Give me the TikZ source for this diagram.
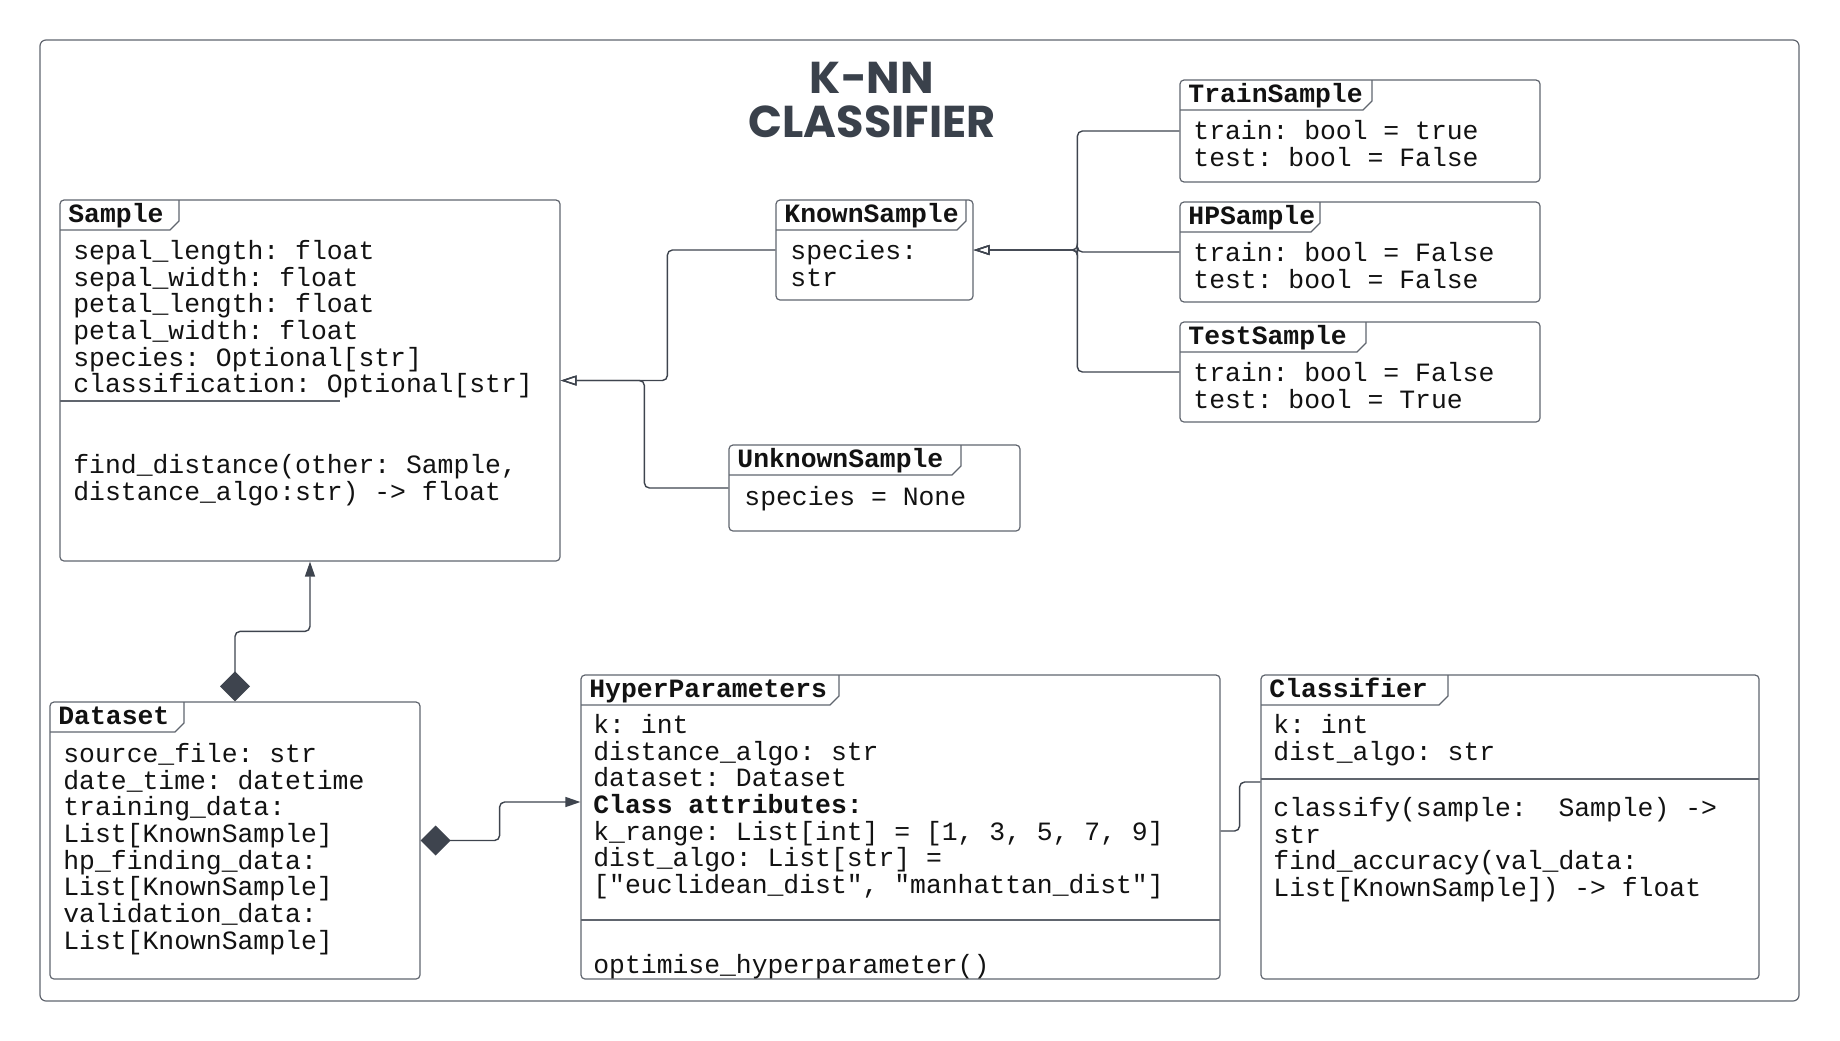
\documentclass[tikz,border=0pt]{standalone}
\usepackage{fontspec}
\setmonofont{Liberation Mono}
\newfontfamily\headfont{Poppins}
\usetikzlibrary{arrows.meta, fit, calc}

\definecolor{boxline}{RGB}{96,101,110}
\definecolor{wire}{RGB}{62,68,78}
\definecolor{ink}{RGB}{18,18,18}
\definecolor{headink}{RGB}{58,65,75}
\newcommand{\firstln}{\rule{0pt}{11pt}}

\begin{document}
\begin{tikzpicture}[x=0.5pt, y=-0.5pt,
	cls/.style={draw=boxline, line width=0.6pt, rounded corners=2pt, inner sep=0pt},
	tab/.style={draw=boxline, line width=0.6pt},
	cname/.style={anchor=base west, inner sep=0pt, text=ink, font=\ttfamily\bfseries\fontsize{13.2}{13.35}\selectfont},
	attr/.style={anchor=north west, inner sep=0pt, align=left, text=ink, font=\ttfamily\frenchspacing\fontsize{13.2}{13.35}\selectfont},
	wirestyle/.style={draw=wire, line width=0.7pt, rounded corners=2.5pt},
	gen/.style={wirestyle, -{Triangle[open, length=8pt, width=5pt]}},
	comp/.style={wirestyle, {Diamond[length=15pt, width=15pt]}-{Triangle[length=7.5pt, width=5pt]}}]
		\useasboundingbox (0,0) rectangle (1840,1040);
		\draw[boxline, line width=0.6pt, rounded corners=3pt] (40,40) rectangle (1799,1001);
		\node[font=\headfont\bfseries\fontsize{22.3}{22}\selectfont, text=headink, align=center] (title) at (872,100) {K-NN\\CLASSIFIER};
		% sample classes
		\node[cls, fit={(60,200) (560,561)}] (sample) {};
		\draw[tab] (179,200) -- (179,221) -- (170,230) -- (60,230);
		\node[cname] (sampleT) at (68,222) {Sample};
		\node[attr] (sampleA) at (73,237) {\firstln sepal\_length: float\\sepal\_width: float\\petal\_length: float\\petal\_width: float\\species: Optional[str]\\classification: Optional[str]};
		\draw[tab] (60,401) -- (340,401);
		\node[attr] (sampleM) at (73,451) {\firstln find\_distance(other: Sample,\\distance\_algo:str) -> float};
		\node[cls, fit={(776,200) (973,300)}] (known) {};
		\draw[tab] (966,200) -- (966,221) -- (957,230) -- (776,230);
		\node[cname] (knownT) at (784,222) {KnownSample};
		\node[attr] (knownA) at (790,237) {\firstln species:\\str};
		\node[cls, fit={(729,445) (1020,531)}] (unknown) {};
		\draw[tab] (961,445) -- (961,466) -- (952,475) -- (729,475);
		\node[cname] (unknownT) at (737,467) {UnknownSample};
		\node[attr] (unknownA) at (744,483) {\firstln species = None};
		\node[cls, fit={(1180,80) (1540,182)}] (train) {};
		\draw[tab] (1372,80) -- (1372,101) -- (1363,110) -- (1180,110);
		\node[cname] (trainT) at (1188,102) {TrainSample};
		\node[attr] (trainA) at (1193,117) {\firstln train: bool = true\\test: bool = False};
		\node[cls, fit={(1180,202) (1540,302)}] (hpsample) {};
		\draw[tab] (1320,202) -- (1320,223) -- (1311,232) -- (1180,232);
		\node[cname] (hpsampleT) at (1188,224) {HPSample};
		\node[attr] (hpsampleA) at (1193,239) {\firstln train: bool = False\\test: bool = False};
		\node[cls, fit={(1180,322) (1540,422)}] (test) {};
		\draw[tab] (1366,322) -- (1366,343) -- (1357,352) -- (1180,352);
		\node[cname] (testT) at (1188,344) {TestSample};
		\node[attr] (testA) at (1193,359) {\firstln train: bool = False\\test: bool = True};
		% data and classifier
		\node[cls, fit={(50,702) (420,979)}] (dataset) {};
		\draw[tab] (184,702) -- (184,723) -- (175,732) -- (50,732);
		\node[cname] (datasetT) at (58,724) {Dataset};
		\node[attr] (datasetA) at (63,740) {\firstln source\_file: str\\date\_time: datetime\\training\_data:\\List[KnownSample]\\hp\_finding\_data:\\List[KnownSample]\\validation\_data:\\List[KnownSample]};
		\node[cls, fit={(581,675) (1220,979)}] (hp) {};
		\draw[tab] (839,675) -- (839,696) -- (830,705) -- (581,705);
		\node[cname] (hpT) at (589,697) {HyperParameters};
		\node[attr] (hpA) at (593,711) {\firstln k: int\\distance\_algo: str\\dataset: Dataset\\\textbf{Class attributes:}\\k\_range: List[int] = [1, 3, 5, 7, 9]\\dist\_algo: List[str] =\\{}["euclidean\_dist", "manhattan\_dist"]};
		\draw[tab] (581,920) -- (1220,920);
		\node[attr] (hpM) at (593,951) {\firstln optimise\_hyperparameter()};
		\node[cls, fit={(1261,675) (1759,979)}] (classifier) {};
		\draw[tab] (1448,675) -- (1448,696) -- (1439,705) -- (1261,705);
		\node[cname] (classifierT) at (1269,697) {Classifier};
		\node[attr] (classifierA) at (1273,711) {\firstln k: int\\dist\_algo: str};
		\draw[tab] (1261,779) -- (1759,779);
		\node[attr] (classifierM) at (1273,794) {\firstln classify(sample:\ \ Sample) ->\\str\\find\_accuracy(val\_data:\\List[KnownSample]) -> float};
		% connectors
		\draw[gen] (known.west) -- ++(-108,0) |- (sample.east);
		\draw[gen] (unknown.west) -- ++(-84,0) |- (sample.east);
		\draw[gen] (train.west) -- ++(-102,0) |- (known.east);
		\draw[gen] (hpsample.west) -- ++(-102,0) |- (known.east);
		\draw[gen] (test.west) -- ++(-102,0) |- (known.east);
		\draw[comp] (dataset.north) -- ++(0,-70) -| (sample.south);
		\coordinate (hpin) at ($(hp.west)+(0,-25)$);
		\draw[comp] (dataset.east) -- ++(79,0) |- (hpin);
		\coordinate (hpout) at ($(hp.east)+(0,4)$);
		\coordinate (clsin) at ($(classifier.west)+(0,-45)$);
		\draw[wirestyle] (hpout) -- ++(19,0) |- (clsin);
	\end{tikzpicture}
\end{document}
